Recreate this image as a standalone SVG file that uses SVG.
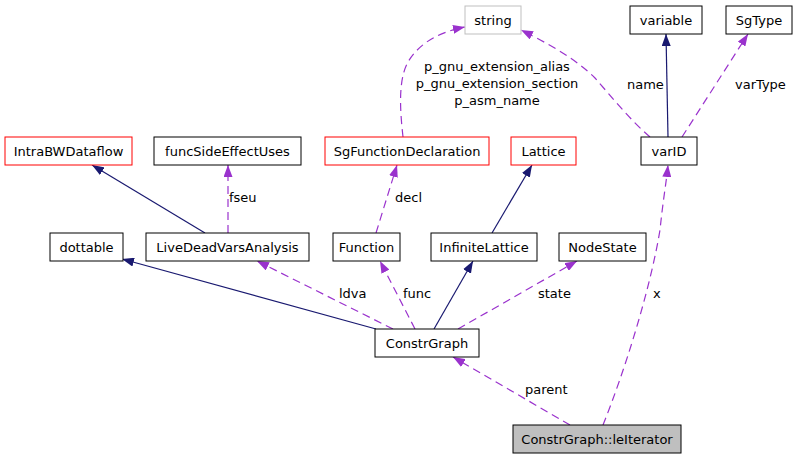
<svg xmlns="http://www.w3.org/2000/svg" width="799" height="459" viewBox="0 0 799 459">
<style>
  .n rect { fill: #ffffff; stroke: #000000; stroke-width: 1; }
  .n.red rect { stroke: #ff0000; }
  .n.gray rect { stroke: #bfbfbf; }
  .n.cur rect { fill: #bfbfbf; }
  text { font-family: "DejaVu Sans", "Noto Sans", sans-serif; font-size: 13px; fill: #000000; }
  .n text { text-anchor: middle; }
  .inh { fill: none; stroke: #191970; stroke-width: 1.2; marker-end: url(#ab); }
  .use { fill: none; stroke: #9a32cd; stroke-width: 1.2; stroke-dasharray: 8,5; marker-end: url(#ap); }
  .lbl { text-anchor: start; }
</style>
<defs>
  <marker id="ab" markerUnits="userSpaceOnUse" markerWidth="12" markerHeight="9" refX="12" refY="4.5" orient="auto">
    <path d="M0,0 L12,4.5 L0,9 z" fill="#191970"/>
  </marker>
  <marker id="ap" markerUnits="userSpaceOnUse" markerWidth="12" markerHeight="9" refX="12" refY="4.5" orient="auto">
    <path d="M0,0 L12,4.5 L0,9 z" fill="#9a32cd"/>
  </marker>
</defs>
<rect width="799" height="459" fill="#ffffff"/>
<g id="edges">
  <path class="inh" d="M205,233 L92,165"/>
  <path class="inh" d="M668,137 L666,34"/>
  <path class="inh" d="M492,233 L532,165"/>
  <path class="inh" d="M434,329 L473,261"/>
  <path class="inh" d="M376,329 L122,259"/>
  <path class="use" d="M228,233 L228,165"/>
  <path class="use" d="M376,233 L397,165"/>
  <path class="use" d="M403,137 C400,110 398,80 408,62 C420,42 440,32 465,27"/>
  <path class="use" d="M650,137 C630,120 610,95 595,78 C575,58 545,42 521,30"/>
  <path class="use" d="M682,137 L748,34"/>
  <path class="use" d="M393,329 L257,261"/>
  <path class="use" d="M415,329 L380,261"/>
  <path class="use" d="M458,329 L577,261"/>
  <path class="use" d="M570,425 L453,357"/>
  <path class="use" d="M603,425 C625,370 650,290 660,230 C663,200 666,185 668,165"/>
  <text class="lbl" x="229" y="202">fseu</text>
  <text class="lbl" x="395" y="202">decl</text>
  <text x="497" y="71" text-anchor="middle">p_gnu_extension_alias</text>
  <text x="497" y="88" text-anchor="middle">p_gnu_extension_section</text>
  <text x="497" y="105" text-anchor="middle">p_asm_name</text>
  <text class="lbl" x="627" y="89">name</text>
  <text class="lbl" x="735" y="89">varType</text>
  <text class="lbl" x="339" y="298">ldva</text>
  <text class="lbl" x="403" y="298">func</text>
  <text class="lbl" x="538" y="298">state</text>
  <text class="lbl" x="653" y="298">x</text>
  <text class="lbl" x="525" y="394">parent</text>
</g>
<g id="string" class="n gray"><rect x="465" y="6" width="56" height="28"/><text x="493" y="24.5">string</text></g>
<g id="variable" class="n"><rect x="630" y="6" width="72" height="28"/><text x="666" y="24.5">variable</text></g>
<g id="SgType" class="n"><rect x="726" y="6" width="66" height="28"/><text x="759" y="24.5">SgType</text></g>
<g id="IntraBWDataflow" class="n red"><rect x="5" y="137" width="127" height="28"/><text x="68.5" y="155.5">IntraBWDataflow</text></g>
<g id="funcSideEffectUses" class="n"><rect x="154" y="137" width="147" height="28"/><text x="227.5" y="155.5">funcSideEffectUses</text></g>
<g id="SgFunctionDeclaration" class="n red"><rect x="325" y="137" width="164" height="28"/><text x="407" y="155.5">SgFunctionDeclaration</text></g>
<g id="Lattice" class="n red"><rect x="511" y="137" width="65" height="28"/><text x="543.5" y="155.5">Lattice</text></g>
<g id="varID" class="n"><rect x="641" y="137" width="56" height="28"/><text x="669" y="155.5">varID</text></g>
<g id="dottable" class="n"><rect x="50" y="233" width="73" height="28"/><text x="86.5" y="251.5">dottable</text></g>
<g id="LiveDeadVarsAnalysis" class="n"><rect x="146" y="233" width="163" height="28"/><text x="227.5" y="251.5">LiveDeadVarsAnalysis</text></g>
<g id="Function" class="n"><rect x="333" y="233" width="67" height="28"/><text x="366.5" y="251.5">Function</text></g>
<g id="InfiniteLattice" class="n"><rect x="431" y="233" width="106" height="28"/><text x="484" y="251.5">InfiniteLattice</text></g>
<g id="NodeState" class="n"><rect x="559" y="233" width="87" height="28"/><text x="602.5" y="251.5">NodeState</text></g>
<g id="ConstrGraph" class="n"><rect x="375" y="329" width="104" height="28"/><text x="427" y="347.5">ConstrGraph</text></g>
<g id="leIterator" class="n cur"><rect x="513" y="425" width="168" height="28"/><text x="597" y="443.5">ConstrGraph::leIterator</text></g>
</svg>
